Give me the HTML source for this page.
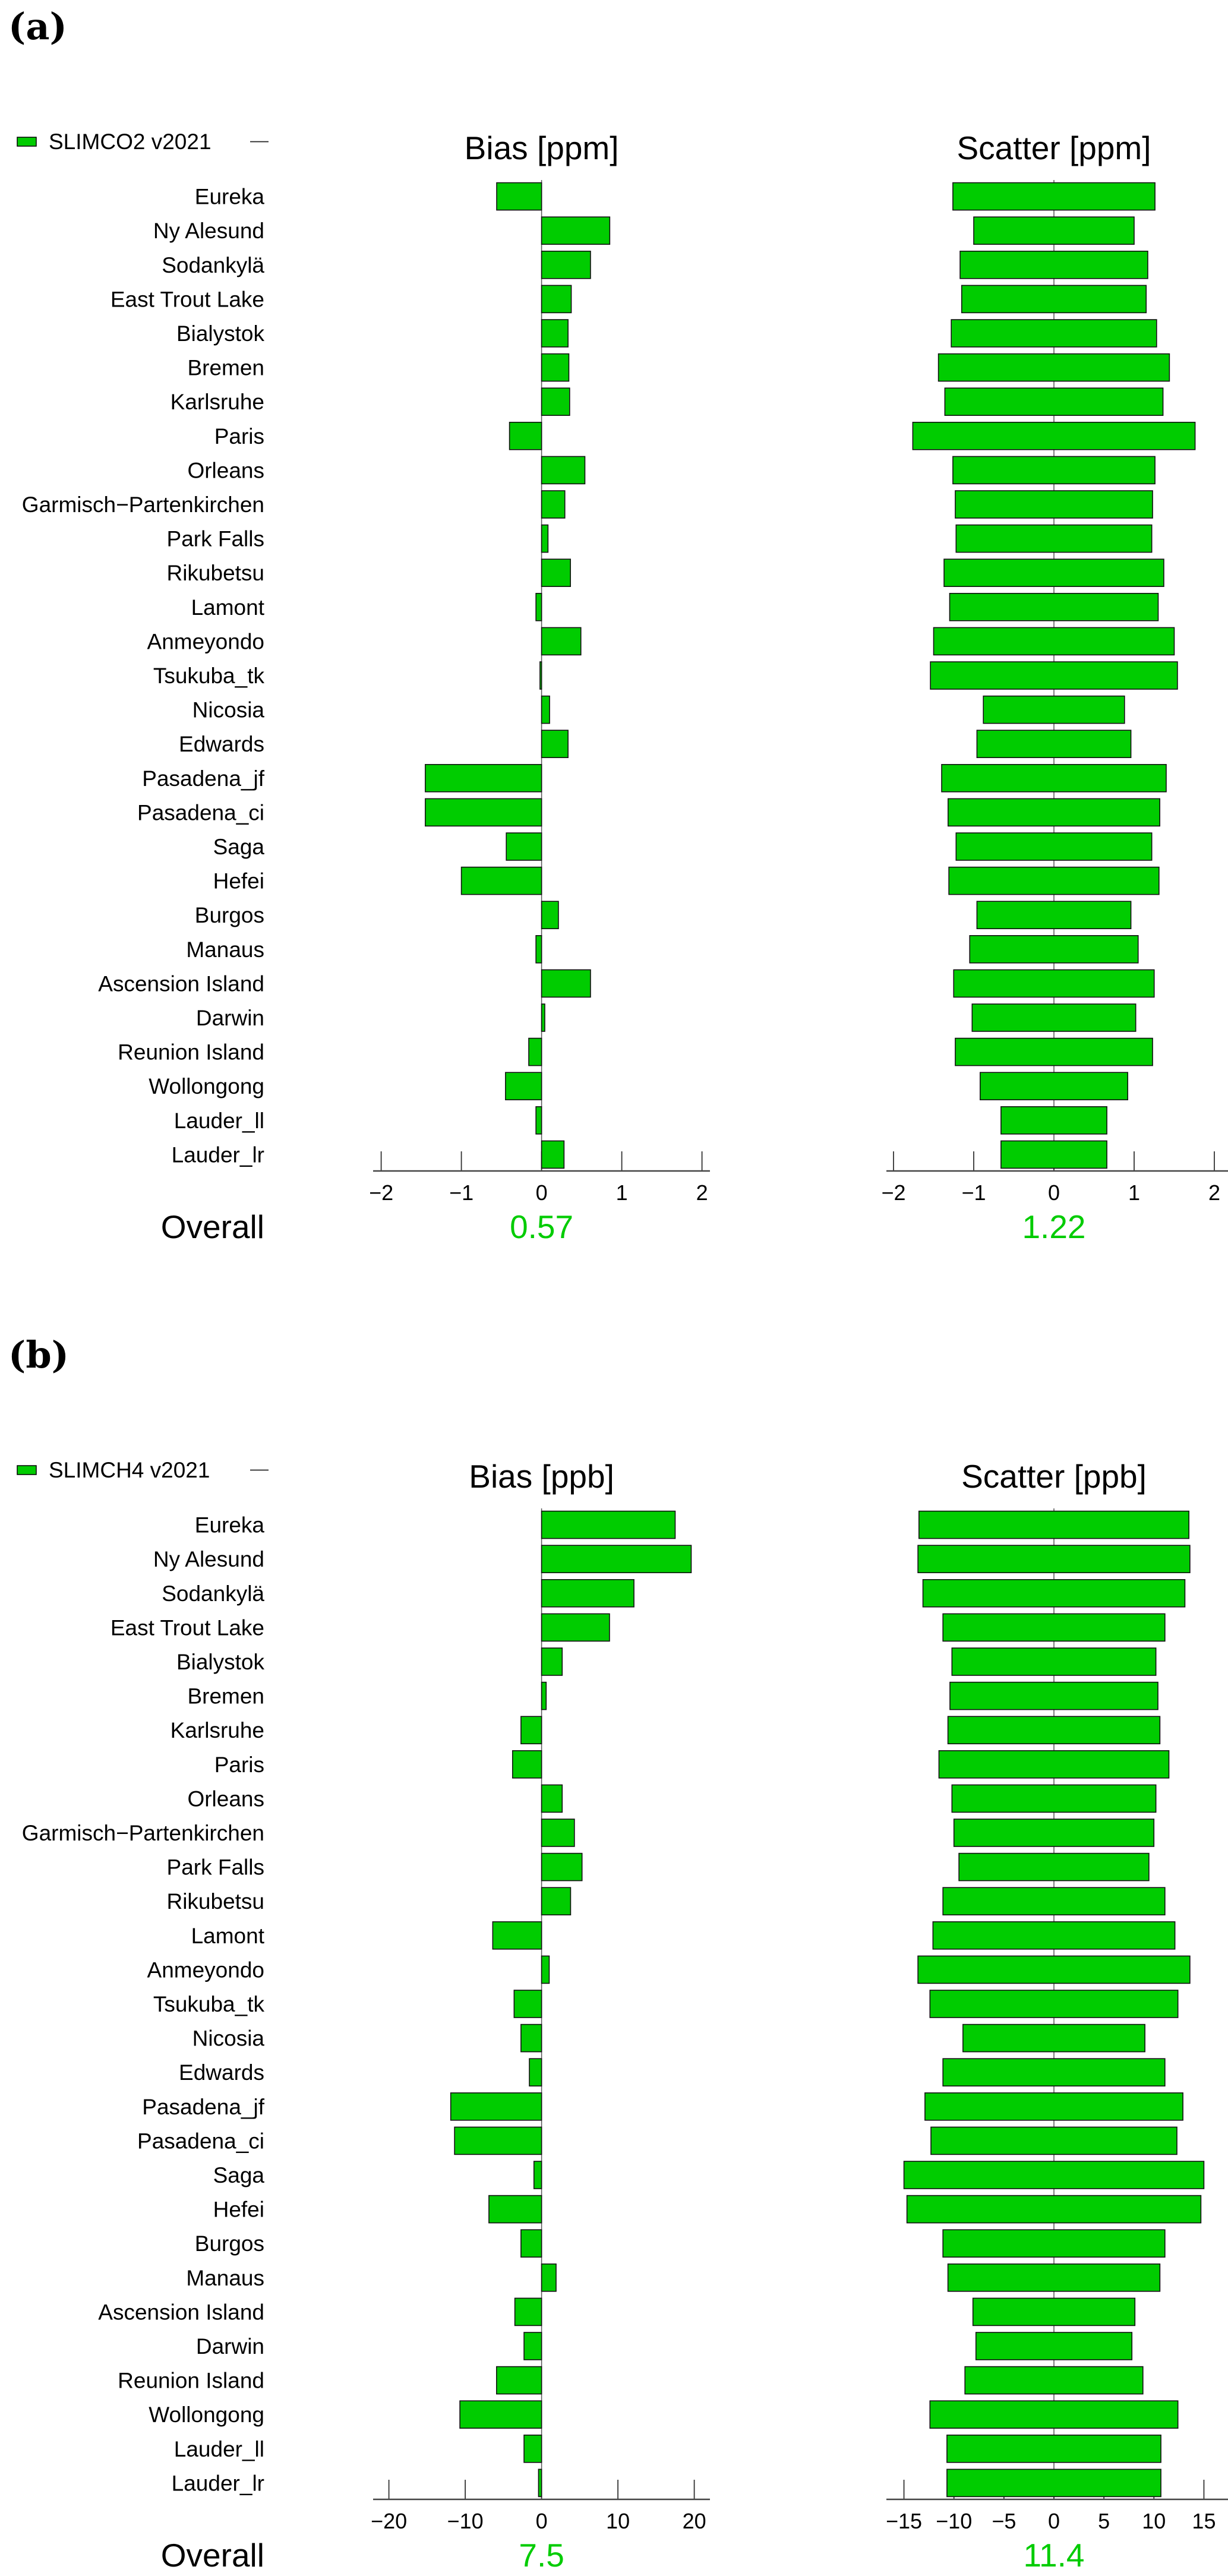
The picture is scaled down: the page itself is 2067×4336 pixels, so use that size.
<!DOCTYPE html>
<html><head><meta charset="utf-8"><style>
html,body{margin:0;padding:0;background:#fff;}
svg{display:block;font-family:"Liberation Sans",sans-serif;}
</style></head><body>
<svg id="fig" width="2067" height="4336" viewBox="0 0 2067 4336" xmlns="http://www.w3.org/2000/svg"></svg>
<script>
const stations = ["Eureka","Ny Alesund","Sodankylä","East Trout Lake","Bialystok","Bremen","Karlsruhe","Paris","Orleans","Garmisch−Partenkirchen","Park Falls","Rikubetsu","Lamont","Anmeyondo","Tsukuba_tk","Nicosia","Edwards","Pasadena_jf","Pasadena_ci","Saga","Hefei","Burgos","Manaus","Ascension Island","Darwin","Reunion Island","Wollongong","Lauder_ll","Lauder_lr"];
const co2Bias = [-0.56,0.85,0.61,0.37,0.33,0.34,0.35,-0.40,0.54,0.29,0.08,0.36,-0.07,0.49,-0.02,0.10,0.33,-1.45,-1.45,-0.44,-1.00,0.21,-0.07,0.61,0.04,-0.16,-0.45,-0.07,0.28];
const co2Scatter = [1.26,1.00,1.17,1.15,1.28,1.44,1.36,1.76,1.26,1.23,1.22,1.37,1.30,1.50,1.54,0.88,0.96,1.40,1.32,1.22,1.31,0.96,1.05,1.25,1.02,1.23,0.92,0.66,0.66];
const ch4Bias = [17.5,19.6,12.1,8.9,2.7,0.6,-2.7,-3.8,2.7,4.3,5.3,3.8,-6.4,1.0,-3.6,-2.7,-1.6,-11.9,-11.4,-1.0,-6.9,-2.7,1.9,-3.5,-2.3,-5.9,-10.7,-2.3,-0.4];
const ch4Scatter = [13.5,13.6,13.1,11.1,10.2,10.4,10.6,11.5,10.2,10.0,9.5,11.1,12.1,13.6,12.4,9.1,11.1,12.9,12.3,15.0,14.7,11.1,10.6,8.1,7.8,8.9,12.4,10.7,10.7];
const co2BiasTicks = [-2,-1,0,1,2];
const co2ScatterTicks = [-2,-1,0,1,2];
const ch4BiasTicks = [-20,-10,0,10,20];
const ch4ScatterTicks = [-15,-10,-5,0,5,10,15];
const co2Overall = ["0.57","1.22"];
const ch4Overall = ["7.5","11.4"];

const NS="http://www.w3.org/2000/svg";
const svg=document.getElementById('fig');
function mk(tag,attrs,parent,text){const e=document.createElementNS(NS,tag);for(const k in attrs)e.setAttribute(k,attrs[k]);if(text!==undefined)e.textContent=text;(parent||svg).appendChild(e);return e;}
const GREEN="#00cc00";

function panel(oy,letter,legend,unit,bias,scatter,bTicks,sTicks,bScale,sScale,overall){
  const g=mk('g',{});
  
  
  const lab=mk('text',{x:14,y:oy+66,'font-family':'"DejaVu Serif",serif','font-weight':'bold','font-size':62},g,'('+letter+')');
  
  
  const lg=mk('g',{},g);
  
  
  mk('rect',{x:29,y:oy+231,width:32,height:15,fill:GREEN,stroke:'#000','stroke-width':1.5},lg);
  mk('text',{x:82,y:oy+251,'font-size':37},lg,legend);
  mk('line',{x1:421,x2:452,y1:oy+238.5,y2:oy+238.5,stroke:'#222','stroke-width':1.8},lg);
  const rowY=i=>oy+330.6+i*57.6;
  const barH=46;
  const axisY=oy+1971;
  const axes=[
    {cx:911.6,scale:bScale,vals:bias,ticks:bTicks,title:'Bias ['+unit+']',x0:628,x1:1195,sym:false,name:'bias',ov:overall[0]},
    {cx:1774,scale:sScale,vals:scatter,ticks:sTicks,title:'Scatter ['+unit+']',x0:1492,x1:2067,sym:true,name:'scatter',ov:overall[1]}
  ];
  stations.forEach((s,i)=>{
    const t=mk('text',{x:445,y:rowY(i)+13,'font-size':37,'text-anchor':'end'},g,s);
    
    
  });
  axes.forEach(a=>{
    const X=v=>a.cx+v*a.scale;
    const ag=mk('g',{},g);
    
    
    const tt=mk('text',{x:a.cx,y:oy+268,'font-size':55,'text-anchor':'middle'},ag,a.title);
    
    
    mk('line',{x1:a.cx,x2:a.cx,y1:oy+303,y2:axisY,stroke:'#555','stroke-width':1.5},ag);
    a.ticks.forEach(tv=>{
      mk('line',{x1:X(tv),x2:X(tv),y1:axisY-33,y2:axisY,stroke:'#333','stroke-width':1.8},ag);
      const tl=mk('text',{x:X(tv),y:axisY+49,'font-size':36,'text-anchor':'middle'},ag,String(tv).replace('-','−'));
      
      
    });
    const al=mk('line',{x1:a.x0,x2:a.x1,y1:axisY,y2:axisY,stroke:'#444','stroke-width':2.5},ag);
    
    
    a.vals.forEach((v,i)=>{
      let xa,xb;
      if(a.sym){xa=X(-v);xb=X(v);}else{xa=Math.min(X(0),X(v));xb=Math.max(X(0),X(v));}
      const r=mk('rect',{x:xa,y:rowY(i)-barH/2,width:Math.max(xb-xa,1),height:barH,fill:GREEN,stroke:'#111','stroke-width':1.6},ag);
      
      
    });
    const ov=mk('text',{x:a.cx,y:oy+2084,'font-size':55,'text-anchor':'middle',fill:GREEN},ag,a.ov);
    
    
  });
  const ol=mk('text',{x:445,y:oy+2084,'font-size':55,'text-anchor':'end'},g,'Overall');
  
  
}
panel(0,'a','SLIMCO2 v2021','ppm',co2Bias,co2Scatter,co2BiasTicks,co2ScatterTicks,135,135,co2Overall);
panel(2236,'b','SLIMCH4 v2021','ppb',ch4Bias,ch4Scatter,ch4BiasTicks,ch4ScatterTicks,12.85,16.83,ch4Overall);
</script>
</body></html>
